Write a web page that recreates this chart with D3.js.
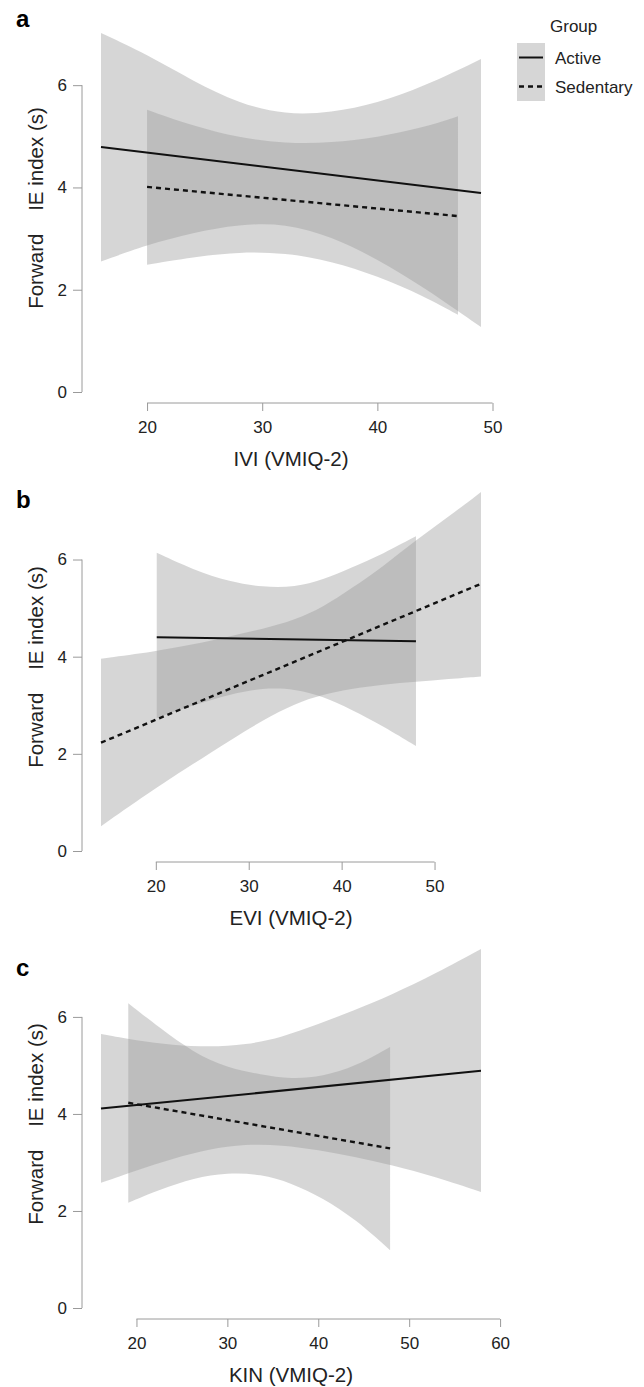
<!DOCTYPE html>
<html>
<head>
<meta charset="utf-8">
<script src="https://cdn.jsdelivr.net/npm/d3@7"></script>
<style>
  body { margin: 0; background: #fff; }
  svg { display: block; font-family: "Liberation Sans", Arial, sans-serif; }
</style>
</head>
<body>
<div id="figure"></div>
<script>
// shared
const yTicks = [0, 2, 4, 6];
const groups = ["Active", "Sedentary"];
const panelLetters = ["a", "b", "c"];
const xTitles = ["IVI (VMIQ-2)", "EVI (VMIQ-2)", "KIN (VMIQ-2)"];
const yTitle = "Forward\u00a0\u00a0\u00a0\u00a0IE index (s)";

// panel a: IVI
const iviTicks = [20, 30, 40, 50];
const iviActiveX = [16, 20, 24, 28, 32, 36, 40, 44, 49];
const iviActiveUpper = [7.02, 6.6, 6.08, 5.64, 5.42, 5.46, 5.65, 5.97, 6.51];
const iviActiveLower = [2.55, 2.88, 3.12, 3.28, 3.3, 3.04, 2.6, 2.05, 1.27];
const iviActiveFit = [4.79, 3.89];
const iviSedX = [20, 24, 28, 32, 36, 40, 44, 47];
const iviSedUpper = [5.52, 5.2, 4.97, 4.86, 4.87, 4.98, 5.17, 5.39];
const iviSedLower = [2.49, 2.64, 2.74, 2.72, 2.56, 2.27, 1.88, 1.51];
const iviSedFit = [4.01, 3.44];

// panel b: EVI
const eviTicks = [20, 30, 40, 50];
const eviActiveX = [20.1, 24, 28, 31.5, 35, 38, 41, 44.5, 48];
const eviActiveUpper = [6.14, 5.79, 5.54, 5.43, 5.43, 5.58, 5.83, 6.12, 6.48];
const eviActiveLower = [2.74, 3.0, 3.23, 3.36, 3.34, 3.18, 2.92, 2.57, 2.16];
const eviActiveFit = [4.4, 4.32];
const eviSedX = [14.1, 20, 24, 28, 31.5, 35, 38, 41, 44.5, 48, 51.5, 55];
const eviSedUpper = [3.96, 4.11, 4.25, 4.42, 4.57, 4.76, 5.02, 5.4, 5.86, 6.4, 6.88, 7.39];
const eviSedLower = [0.51, 1.3, 1.79, 2.28, 2.69, 3.04, 3.22, 3.34, 3.43, 3.48, 3.54, 3.59];
const eviSedFit = [2.23, 5.5];

// panel c: KIN
const kinTicks = [20, 30, 40, 50, 60];
const kinActiveX = [16.1, 20, 24, 28, 32, 36, 40, 44, 48, 53, 57.9];
const kinActiveUpper = [5.65, 5.51, 5.42, 5.38, 5.42, 5.58, 5.85, 6.14, 6.45, 6.9, 7.4];
const kinActiveLower = [2.58, 2.84, 3.08, 3.28, 3.38, 3.36, 3.26, 3.12, 2.95, 2.7, 2.39];
const kinActiveFit = [4.11, 4.89];
const kinSedX = [19.1, 22.6, 26.3, 30, 33.7, 37, 40.5, 44.1, 47.9];
const kinSedUpper = [6.28, 5.77, 5.26, 4.95, 4.81, 4.72, 4.77, 4.98, 5.38];
const kinSedLower = [2.17, 2.44, 2.68, 2.79, 2.76, 2.58, 2.27, 1.83, 1.19];
const kinSedFit = [4.23, 3.29];

(function () {
  const W = 644;
  const H = 1387;
  const plotLeft = 101;
  const plotRight = 481;
  const plotHeight = 359;
  const panelTop = [33, 492, 949];
  const letterBaseline = [27, 508, 976];
  const yAxisX = 82;

  const bandFill = "#999999";
  const bandOpacity = 0.4;
  const axisColor = "#9a9a9a";
  const textColor = "#222";
  const fontFamily = '"Liberation Sans", Arial, sans-serif';

  const series = (x, upper, lower, fit) => ({
    band: x.map((v, i) => ({ x: v, hi: upper[i], lo: lower[i] })),
    fit: [
      { x: x[0], y: fit[0] },
      { x: x[x.length - 1], y: fit[1] },
    ],
  });

  const panels = [
    {
      ticks: iviTicks,
      active: series(iviActiveX, iviActiveUpper, iviActiveLower, iviActiveFit),
      sed: series(iviSedX, iviSedUpper, iviSedLower, iviSedFit),
    },
    {
      ticks: eviTicks,
      active: series(eviActiveX, eviActiveUpper, eviActiveLower, eviActiveFit),
      sed: series(eviSedX, eviSedUpper, eviSedLower, eviSedFit),
    },
    {
      ticks: kinTicks,
      active: series(kinActiveX, kinActiveUpper, kinActiveLower, kinActiveFit),
      sed: series(kinSedX, kinSedUpper, kinSedLower, kinSedFit),
    },
  ];

  const svg = d3
    .select("#figure")
    .append("svg")
    .attr("width", W)
    .attr("height", H)
    .attr("viewBox", `0 0 ${W} ${H}`);

  panels.forEach((p, i) => {
    const top = panelTop[i];
    const bottom = top + plotHeight;
    const xAxisY = bottom + 11;

    const allBand = p.active.band.concat(p.sed.band);
    const xScale = d3
      .scaleLinear()
      .domain(d3.extent(allBand, (d) => d.x))
      .range([plotLeft, plotRight]);
    const yScale = d3
      .scaleLinear()
      .domain([0, d3.max(allBand, (d) => d.hi)])
      .range([bottom, top]);

    const g = svg.append("g").attr("class", `panel panel-${panelLetters[i]}`);

    // confidence bands
    const area = d3
      .area()
      .x((d) => xScale(d.x))
      .y0((d) => yScale(d.lo))
      .y1((d) => yScale(d.hi))
      .curve(d3.curveBasis);

    [p.active, p.sed].forEach((s) => {
      g.append("path")
        .attr("d", area(s.band))
        .attr("fill", bandFill)
        .attr("fill-opacity", bandOpacity);
    });

    // fitted lines
    const line = d3
      .line()
      .x((d) => xScale(d.x))
      .y((d) => yScale(d.y));

    g.append("path")
      .attr("d", line(p.active.fit))
      .attr("fill", "none")
      .attr("stroke", "#111")
      .attr("stroke-width", 2);

    g.append("path")
      .attr("d", line(p.sed.fit))
      .attr("fill", "none")
      .attr("stroke", "#111")
      .attr("stroke-width", 2.4)
      .attr("stroke-dasharray", "5,4");

    // y axis
    const yAxis = g
      .append("g")
      .attr("transform", `translate(${yAxisX},0)`)
      .call(
        d3
          .axisLeft(yScale)
          .tickValues(yTicks)
          .tickFormat(d3.format("d"))
          .tickSize(9)
          .tickPadding(6)
      );
    yAxis.select(".domain").remove();
    yAxis.selectAll(".tick line").attr("stroke", axisColor);
    yAxis
      .selectAll(".tick text")
      .attr("fill", textColor)
      .style("font-size", "17px")
      .style("font-family", fontFamily);
    yAxis
      .append("line")
      .attr("x1", 0)
      .attr("x2", 0)
      .attr("y1", yScale(d3.min(yTicks)))
      .attr("y2", yScale(d3.max(yTicks)))
      .attr("stroke", axisColor);

    // x axis
    const xAxis = g
      .append("g")
      .attr("transform", `translate(0,${xAxisY})`)
      .call(
        d3
          .axisBottom(xScale)
          .tickValues(p.ticks)
          .tickFormat(d3.format("d"))
          .tickSize(8)
          .tickPadding(10)
      );
    xAxis.select(".domain").remove();
    xAxis.selectAll(".tick line").attr("stroke", axisColor);
    xAxis
      .selectAll(".tick text")
      .attr("fill", textColor)
      .style("font-size", "17px")
      .style("font-family", fontFamily);
    xAxis
      .append("line")
      .attr("x1", xScale(d3.min(p.ticks)))
      .attr("x2", xScale(d3.max(p.ticks)))
      .attr("y1", 0)
      .attr("y2", 0)
      .attr("stroke", axisColor);

    // axis titles
    g.append("text")
      .attr("x", (plotLeft + plotRight) / 2)
      .attr("y", xAxisY + 63)
      .attr("text-anchor", "middle")
      .attr("fill", textColor)
      .style("font-size", "20.5px")
      .text(xTitles[i]);

    g.append("text")
      .attr("transform", `translate(43,${top + 175}) rotate(-90)`)
      .attr("text-anchor", "middle")
      .attr("fill", textColor)
      .style("font-size", "20.5px")
      .text(yTitle);

    // panel letter
    g.append("text")
      .attr("x", 16)
      .attr("y", letterBaseline[i])
      .attr("fill", "#000")
      .style("font-size", "24px")
      .style("font-weight", "bold")
      .text(panelLetters[i]);
  });

  // legend
  const legend = svg.append("g").attr("class", "legend");
  legend
    .append("text")
    .attr("x", 550)
    .attr("y", 32)
    .attr("fill", textColor)
    .style("font-size", "17px")
    .text("Group");

  groups.forEach((name, i) => {
    const y0 = 43 + i * 29;
    legend
      .append("rect")
      .attr("x", 517)
      .attr("y", y0)
      .attr("width", 28)
      .attr("height", 29)
      .attr("fill", bandFill)
      .attr("fill-opacity", bandOpacity);
    legend
      .append("line")
      .attr("x1", 519)
      .attr("x2", 543)
      .attr("y1", y0 + 14.5)
      .attr("y2", y0 + 14.5)
      .attr("stroke", "#111")
      .attr("stroke-width", i === 0 ? 2 : 2.4)
      .attr("stroke-dasharray", i === 0 ? null : "5,4");
    legend
      .append("text")
      .attr("x", 555)
      .attr("y", y0 + 20.5)
      .attr("fill", textColor)
      .style("font-size", "17px")
      .text(name);
  });
})();
</script>
</body>
</html>
